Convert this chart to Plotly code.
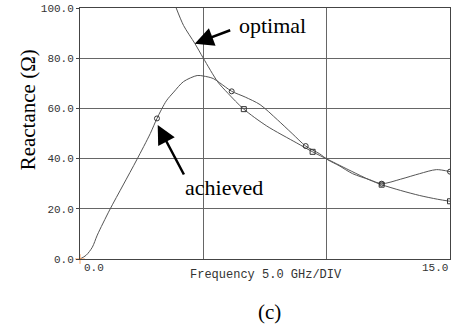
import plotly.graph_objects as go

# Data (frequency in GHz, reactance in ohms)
ach_f = [0, 0.25, 0.5, 0.7, 1.2, 1.75, 2.3, 2.85, 3.12, 3.5, 3.8, 4.2, 4.75, 5.0, 5.4,
         5.9, 6.15, 6.7, 7.3, 8.0, 8.6, 9.15, 9.7, 10.05, 10.5, 11.05, 11.74, 12.23,
         13.0, 13.77, 14.45, 15.0]
ach_v = [0, 1.5, 4.7, 9.5, 19.5, 29.5, 39.5, 50, 56, 63, 66.5, 70.7, 73.1, 72.9, 71.9,
         68.5, 66.8, 64.5, 61.5, 55.5, 50, 45, 42, 39.5, 37.2, 34, 31.6, 30,
         31.8, 34, 35.6, 34.8]
ach_mk_f = [3.12, 6.15, 9.15, 12.23, 15.0]
ach_mk_v = [56, 66.8, 45, 30, 34.8]

opt_f = [3.9, 4.2, 4.66, 5.0, 5.59, 6.0, 6.64, 7.57, 8.79, 9.43, 10.08, 11.0, 11.74,
         12.23, 13.0, 13.77, 14.5, 15.0]
opt_v = [100, 93, 85.8, 80, 70.5, 66, 59.7, 53, 46.2, 42.7, 39.5, 35, 31.5,
         29.6, 27.3, 25.3, 23.8, 23]
opt_mk_f = [6.64, 9.43, 12.23, 15.0]
opt_mk_v = [59.7, 42.7, 29.6, 23]

y_ticks = [0, 20, 40, 60, 80, 100]
y_ticktext = ["0.0", "20.0", "40.0", "60.0", "80.0", "100.0"]
x_ticks = [0, 15]
x_ticktext = ["0.0", "15.0"]

line_col = "#555555"
grid_col = "#666666"
mono = "Liberation Mono, DejaVu Sans Mono, monospace"
serif = "Liberation Serif, Times New Roman, serif"

fig = go.Figure()
fig.add_trace(go.Scatter(x=ach_f, y=ach_v, mode="lines",
                         line=dict(color=line_col, width=1, shape="spline", smoothing=0.8),
                         showlegend=False, hoverinfo="skip"))
fig.add_trace(go.Scatter(x=opt_f, y=opt_v, mode="lines",
                         line=dict(color=line_col, width=1, shape="spline", smoothing=0.8),
                         showlegend=False, hoverinfo="skip"))
fig.add_trace(go.Scatter(x=ach_mk_f, y=ach_mk_v, mode="markers",
                         marker=dict(symbol="circle-open", size=5, color="#333",
                                     line=dict(width=1, color="#333")),
                         showlegend=False, hoverinfo="skip"))
fig.add_trace(go.Scatter(x=opt_mk_f, y=opt_mk_v, mode="markers",
                         marker=dict(symbol="square-open", size=5, color="#333",
                                     line=dict(width=1, color="#333")),
                         showlegend=False, hoverinfo="skip"))
fig.add_trace(go.Scatter(x=[ach_f[0]], y=[ach_v[0]], mode="markers", cliponaxis=False,
                         marker=dict(symbol="cross-thin-open", size=7,
                                     line=dict(width=1, color="#333")),
                         showlegend=False, hoverinfo="skip"))

fig.update_xaxes(range=[0, 15], tickvals=[5, 10], showticklabels=False, ticks="",
                 showgrid=True, gridcolor=grid_col, gridwidth=1,
                 showline=True, linecolor="#444", linewidth=1, mirror=True,
                 zeroline=False)
fig.update_yaxes(range=[0, 100], tickvals=y_ticks, ticktext=y_ticktext,
                 ticks="outside", ticklen=3, tickcolor="#444",
                 tickfont=dict(family=mono, size=11, color="#333"),
                 showgrid=True, gridcolor=grid_col, gridwidth=1,
                 showline=True, linecolor="#444", linewidth=1, mirror=True,
                 zeroline=False)

annotations = []
for xv, tt, anc in zip(x_ticks, x_ticktext, ["left", "right"]):
    annotations.append(dict(x=xv, y=0, xref="x", yref="y", text=tt, showarrow=False,
                            xanchor=anc, yanchor="top", yshift=-1, xshift=2 if anc == "left" else 0,
                            font=dict(family=mono, size=11, color="#333")))
annotations += [
    dict(x=0.504, y=-0.063, xref="paper", yref="paper", text="Frequency 5.0 GHz/DIV",
         showarrow=False, xanchor="center", yanchor="middle",
         font=dict(family=mono, size=12, color="#333")),
    dict(x=0.512, y=-0.213, xref="paper", yref="paper", text="(c)",
         showarrow=False, xanchor="center", yanchor="middle",
         font=dict(family=serif, size=21, color="black")),
    dict(x=-0.14, y=0.593, xref="paper", yref="paper", text="Reactance (Ω)",
         textangle=-90, showarrow=False, xanchor="center", yanchor="middle",
         font=dict(family=serif, size=21, color="black")),
    dict(x=6.35, y=92.9, xref="x", yref="y", text="optimal", showarrow=False,
         xanchor="left", yanchor="middle", font=dict(family=serif, size=22, color="black")),
    dict(x=4.16, y=28.5, xref="x", yref="y", text="achieved", showarrow=False,
         xanchor="left", yanchor="middle", font=dict(family=serif, size=22, color="black")),
    dict(x=4.65, y=85.8, xref="x", yref="y", text="", showarrow=True,
         ax=37, ay=-14, arrowhead=2, arrowsize=1.5, arrowwidth=2.5, arrowcolor="black"),
    dict(x=3.15, y=53.4, xref="x", yref="y", text="", showarrow=True,
         ax=27, ay=51, arrowhead=2, arrowsize=1.5, arrowwidth=2.5, arrowcolor="black"),
]

fig.update_layout(width=454, height=331, margin=dict(l=80, r=3, t=6, b=72),
                  paper_bgcolor="white", plot_bgcolor="white",
                  annotations=annotations, showlegend=False)

fig.write_html("out.html")
